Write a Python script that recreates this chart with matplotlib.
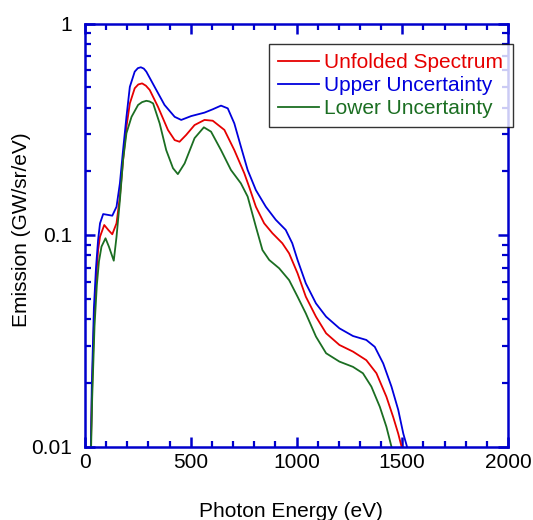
import matplotlib
matplotlib.use("Agg")
import matplotlib.pyplot as plt
from matplotlib.ticker import MultipleLocator, LogLocator, FixedFormatter, FixedLocator, NullFormatter

plt.rcParams["font.family"] = ["Liberation Sans", "DejaVu Sans"]

# values (eV, GW/sr/eV)
unfolded_e = [27, 33, 43, 53, 62, 71, 91, 110, 129, 149, 165, 180, 196, 212, 235, 252, 270,
              288, 306, 345, 392, 424, 447, 478, 518, 565, 604, 659, 706, 753, 776, 808,
              847, 886, 933, 965, 1005, 1044, 1092, 1140, 1203, 1267, 1330, 1378, 1425,
              1457, 1481, 1500]
unfolded_v = [0.009, 0.018, 0.040, 0.063, 0.085, 0.0982, 0.1115, 0.1057, 0.1008, 0.1136,
              0.152, 0.226, 0.325, 0.419, 0.494, 0.515, 0.521, 0.508, 0.485, 0.404, 0.314,
              0.281, 0.276, 0.297, 0.331, 0.350, 0.347, 0.314, 0.252, 0.196, 0.169, 0.136,
              0.1136, 0.102, 0.0914, 0.0819, 0.0659, 0.0511, 0.0411, 0.0343, 0.0302,
              0.0281, 0.0256, 0.0222, 0.0172, 0.0138, 0.0115, 0.0097]

upper_e = [27, 32, 42, 52, 62, 71, 86, 110, 129, 149, 165, 180, 196, 212, 235, 250, 264,
           278, 290, 329, 376, 424, 455, 502, 565, 604, 643, 675, 706, 737, 769, 808, 855,
           902, 949, 980, 1005, 1044, 1092, 1140, 1203, 1267, 1330, 1370, 1410, 1449,
           1481, 1505, 1526]
upper_v = [0.009, 0.019, 0.045, 0.070, 0.095, 0.1136, 0.1256, 0.1244, 0.1234, 0.136, 0.1755,
           0.252, 0.362, 0.502, 0.592, 0.615, 0.621, 0.612, 0.592, 0.502, 0.412, 0.362,
           0.350, 0.365, 0.379, 0.393, 0.409, 0.397, 0.337, 0.262, 0.203, 0.163, 0.136,
           0.118, 0.1057, 0.0914, 0.0762, 0.0591, 0.0475, 0.0411, 0.0362, 0.0333, 0.0319,
           0.0296, 0.0247, 0.0192, 0.0149, 0.0115, 0.0097]

lower_e = [28, 34, 45, 56, 66, 78, 97, 113, 136, 149, 165, 180, 196, 220, 251, 270, 290,
           305, 322, 353, 384, 416, 439, 471, 518, 562, 596, 643, 690, 737, 769, 808, 839,
           871, 918, 965, 1005, 1044, 1092, 1140, 1203, 1267, 1314, 1354, 1394, 1425,
           1451]
lower_v = [0.009, 0.017, 0.037, 0.058, 0.075, 0.0881, 0.0965, 0.0881, 0.0756, 0.098, 0.146,
           0.226, 0.303, 0.362, 0.412, 0.425, 0.431, 0.428, 0.419, 0.337, 0.252, 0.207,
           0.194, 0.218, 0.287, 0.323, 0.308, 0.252, 0.203, 0.1755, 0.152, 0.1094, 0.0849,
           0.0762, 0.0696, 0.0612, 0.0511, 0.0426, 0.0331, 0.0276, 0.0252, 0.0238, 0.0222,
           0.0192, 0.0154, 0.0124, 0.0098]

red = "#e60000"
blue = "#0000dd"
green = "#1b6e22"
axis_blue = "#0000cc"

W, H = 533, 520
fig = plt.figure(figsize=(W / 100, H / 100), dpi=100)
ax = fig.add_axes([85 / W, 1 - 446.5 / H, 423 / W, 423 / H])

ax.plot(unfolded_e, unfolded_v, color=red, lw=1.3, label="Unfolded Spectrum")
ax.plot(upper_e, upper_v, color=blue, lw=1.3, label="Upper Uncertainty")
ax.plot(lower_e, lower_v, color=green, lw=1.3, label="Lower Uncertainty")

ax.set_yscale("log")
ax.set_xlim(0, 2000)
ax.set_ylim(0.01, 1)

ax.xaxis.set_major_locator(MultipleLocator(500))
ax.xaxis.set_minor_locator(MultipleLocator(100))
ax.yaxis.set_major_locator(FixedLocator([0.01, 0.1, 1]))
ax.yaxis.set_major_formatter(FixedFormatter(["0.01", "0.1", "1"]))
ax.yaxis.set_minor_locator(LogLocator(base=10, subs=range(2, 10)))
ax.yaxis.set_minor_formatter(NullFormatter())

for s in ax.spines.values():
    s.set_color(axis_blue)
    s.set_linewidth(1.8)
ax.tick_params(which="both", direction="in", top=True, right=True, color=axis_blue,
               labelsize=15, labelcolor="black")
ax.tick_params(which="major", length=7, width=1.8)
ax.tick_params(which="minor", length=4.5, width=1.6)
ax.tick_params(axis="x", which="major", pad=5)
ax.tick_params(axis="y", which="major", pad=9)

# axis titles placed as in the reference (x title sits at the very bottom edge)
fig.text(291 / W, 3 / H, "Photon Energy (eV)", fontsize=15, ha="center", va="baseline")
fig.text(22 / W, 1 - 230 / H, "Emission (GW/sr/eV)", fontsize=15, rotation=90,
         ha="center", va="center")

leg = ax.legend(loc="upper left", bbox_to_anchor=(269 / W, 1 - 44 / H),
                bbox_transform=fig.transFigure, fontsize=15, frameon=True,
                fancybox=False, edgecolor="black", handlelength=1.95,
                handletextpad=0.25, borderpad=0.45, labelspacing=0.18, borderaxespad=0)
leg.get_frame().set_linewidth(1.0)
for txt, c in zip(leg.get_texts(), [red, blue, green]):
    txt.set_color(c)

fig.savefig("out.png", dpi=100)
